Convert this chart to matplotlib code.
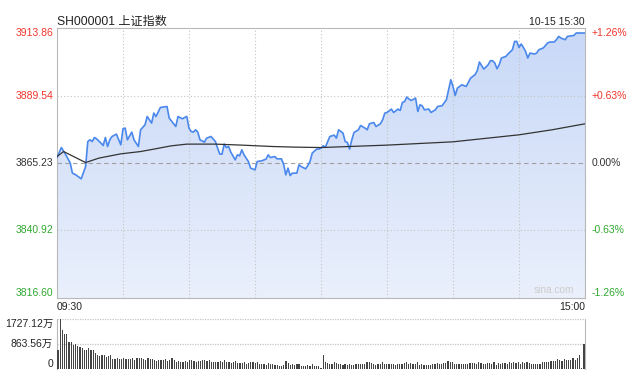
import matplotlib
matplotlib.use('Agg')
import matplotlib.pyplot as plt
import numpy as np
from matplotlib.colors import LinearSegmentedColormap
from matplotlib.patches import Polygon

plt.rcParams['font.family'] = ['Liberation Sans', 'Noto Sans CJK SC', 'DejaVu Sans']

title = 'SH000001 上证指数'
stamp = '10-15 15:30'
prev_close = 3865.23
y_labels = ['3913.86', '3889.54', '3865.23', '3840.92', '3816.60']
y_values = [3913.86, 3889.54, 3865.23, 3840.92, 3816.60]
pct_labels = ['+1.26%', '+0.63%', '0.00%', '-0.63%', '-1.26%']
vol_labels = ['1727.12万', '863.56万', '0']
vol_values = [1727.12, 863.56, 0]

# minute index (0 = 09:30, 120 = 11:30/13:00, 240 = 15:00)
price_min = [0, 2, 4, 6, 7, 8, 9, 11, 13, 14, 15, 16, 17, 18, 20, 21, 22, 23, 24, 25,
             27, 29, 30, 31, 32, 34, 35, 37, 38, 40, 41, 42, 43, 44, 45, 47, 50, 51, 54, 55,
             57, 58, 59, 60, 61, 62, 63, 64, 65, 67, 68, 70, 72, 73, 74, 75, 76, 77, 78, 79,
             81, 82, 83, 84, 85, 87, 88, 90, 91, 93, 95, 96, 97, 99, 100, 102, 103, 104, 105, 106,
             107, 109, 110, 111, 113, 114, 115, 116, 118, 119, 120, 121, 122, 124, 126, 127, 128, 130, 131, 132,
             133, 134, 135, 137, 138, 140, 141, 142, 144, 145, 147, 148, 149, 150, 152, 153, 155, 156, 157, 158,
             159, 160, 161, 163, 164, 165, 166, 167, 169, 170, 172, 173, 175, 177, 178, 179, 180, 181, 182, 184,
             186, 188, 190, 191, 192, 193, 194, 196, 197, 198, 199, 200, 201, 202, 204, 205, 207, 208, 209, 210,
             211, 212, 213, 214, 215, 217, 218, 219, 221, 223, 224, 226, 227, 228, 229, 231, 232, 235, 236, 238,
             240]
price = [3867.20, 3870.80, 3868.17, 3865.29, 3861.57, 3861.21, 3860.71, 3859.52, 3863.95, 3872.97,
         3873.58, 3872.97, 3874.41, 3873.94, 3872.39, 3871.53, 3874.41, 3871.17, 3873.58, 3874.77,
         3875.64, 3871.78, 3877.55, 3877.80, 3873.58, 3876.36, 3873.58, 3871.17, 3877.19, 3878.99,
         3881.98, 3880.79, 3879.60, 3883.21, 3881.98, 3885.23, 3885.59, 3881.41, 3878.38, 3881.98,
         3881.15, 3881.62, 3881.98, 3877.80, 3876.57, 3876.36, 3877.19, 3876.36, 3873.58, 3872.75,
         3874.19, 3874.77, 3872.97, 3870.59, 3868.42, 3868.42, 3872.03, 3870.80, 3871.17, 3869.15,
         3866.37, 3868.17, 3867.81, 3869.97, 3868.17, 3865.76, 3863.38, 3862.76, 3865.76, 3866.01,
         3866.62, 3868.17, 3867.20, 3867.56, 3866.73, 3866.73, 3864.82, 3860.96, 3863.38, 3860.71,
         3861.57, 3861.57, 3864.57, 3863.95, 3863.12, 3864.31, 3865.76, 3868.78, 3870.23, 3870.23,
         3870.59, 3871.42, 3870.95, 3874.77, 3875.28, 3874.19, 3877.19, 3876.00, 3872.97, 3872.61,
         3870.23, 3873.58, 3876.21, 3877.19, 3878.74, 3877.80, 3877.19, 3879.35, 3879.82, 3878.38,
         3879.35, 3880.79, 3883.21, 3883.43, 3884.65, 3883.43, 3884.65, 3884.15, 3887.03, 3887.39,
         3888.98, 3888.26, 3887.75, 3888.62, 3883.79, 3886.20, 3885.84, 3884.40, 3884.65, 3883.43,
         3884.40, 3885.59, 3885.84, 3888.00, 3891.61, 3895.22, 3892.80, 3889.56, 3892.22, 3893.41,
         3892.80, 3895.83, 3897.02, 3898.46, 3901.60, 3900.37, 3899.08, 3900.63, 3902.07, 3902.07,
         3901.24, 3899.18, 3900.63, 3903.04, 3903.62, 3904.48, 3906.03, 3909.03, 3909.03, 3906.86,
         3908.09, 3906.86, 3905.42, 3903.04, 3904.84, 3904.48, 3904.84, 3906.03, 3906.65, 3908.45,
         3908.81, 3908.81, 3909.64, 3910.83, 3910.25, 3909.64, 3910.83, 3911.19, 3912.06, 3912.06,
         3912.06]

avg_min = [0, 3, 13, 19, 29, 38, 44, 52, 59, 72, 84, 98, 108, 120, 150, 180, 210, 225, 240]
avg_price = [3867.56, 3869.36, 3865.39, 3866.98, 3868.53, 3869.36, 3870.23, 3871.42, 3872.03, 3872.03,
             3871.67, 3871.17, 3870.95, 3870.80, 3871.67, 3872.86, 3875.38, 3877.19, 3879.35]

# volume per minute, in 万
volume = [663, 1727, 1350, 1213, 1213, 938, 938, 835, 870, 778,
          755, 721, 641, 663, 732, 663, 641, 549, 492, 458,
          492, 492, 400, 435, 492, 355, 355, 378, 355, 355,
          378, 355, 355, 343, 378, 320, 378, 378, 366, 343,
          320, 378, 355, 343, 320, 263, 297, 297, 320, 355,
          263, 297, 378, 320, 252, 263, 240, 240, 263, 229,
          297, 297, 263, 240, 263, 263, 297, 297, 286, 297,
          240, 229, 229, 229, 286, 240, 320, 240, 229, 206,
          229, 286, 206, 206, 206, 240, 172, 206, 229, 229,
          206, 229, 183, 183, 172, 149, 206, 172, 172, 126,
          149, 115, 115, 126, 286, 206, 149, 172, 149, 172,
          183, 115, 115, 115, 149, 115, 172, 115, 115, 115,
          34,
          469, 240, 206, 183, 183, 229, 206, 183, 172, 149,
          183, 149, 183, 149, 149, 183, 172, 172, 183, 172,
          229, 229, 206, 183, 149, 183, 183, 229, 183, 183,
          183, 183, 183, 149, 172, 183, 183, 206, 229, 183,
          206, 183, 183, 252, 149, 183, 149, 149, 126, 149,
          183, 183, 206, 183, 172, 206, 206, 286, 229, 229,
          183, 183, 172, 183, 172, 183, 183, 206, 206, 206,
          172, 240, 206, 172, 172, 206, 206, 172, 229, 149,
          206, 183, 206, 206, 183, 229, 206, 240, 206, 240,
          183, 229, 206, 240, 206, 183, 183, 183, 183, 183,
          240, 229, 229, 229, 263, 286, 263, 343, 297, 263,
          343, 320, 320, 320, 378, 320, 378, 492, 34, 870]

RED = '#f0352c'
GREEN = '#2fa82f'
DARK = '#333333'
GRID = '#c4c4c4'
BORDER = '#b8b8b8'
label_colors = [RED, RED, DARK, GREEN, GREEN]

fig = plt.figure(figsize=(6.44, 3.74), dpi=100)
ax = fig.add_axes([57 / 644, 1 - 298 / 374, 528 / 644, 270 / 374])
axv = fig.add_axes([57 / 644, 1 - 369 / 374, 528 / 644, 50 / 374])

ymin, ymax = y_values[-1], y_values[0]
ax.set_xlim(0, 240)
ax.set_ylim(ymin, ymax)

# gradient area under the price line
cmap = LinearSegmentedColormap.from_list('fill', ['#eaf0fc', '#c8d8f7'])
grad = np.linspace(0, 1, 256).reshape(-1, 1)
img = ax.imshow(grad, extent=[0, 240, ymin, ymax], origin='lower', aspect='auto',
                cmap=cmap, zorder=1)
verts = np.column_stack([np.r_[price_min, price_min[-1], price_min[0]],
                         np.r_[price, ymin, ymin]])
clip = Polygon(verts, closed=True, facecolor='none', edgecolor='none')
ax.add_patch(clip)
img.set_clip_path(clip)

# grid
for m in range(30, 240, 30):
    ax.axvline(m, color=GRID, lw=0.8, ls=(0, (1, 2)), zorder=2)
for v in [y_values[1], y_values[3]]:
    ax.axhline(v, color=GRID, lw=0.8, ls=(0, (1, 2)), zorder=2)
ax.axhline(prev_close, color='#a0a0a0', lw=0.8, ls=(0, (4, 3)), zorder=2)

ax.plot(price_min, price, color='#4a88ec', lw=1.2, zorder=4)
ax.plot(avg_min, avg_price, color=DARK, lw=0.9, zorder=5)

ax.set_xticks([])
ax.set_yticks([])
for s in ax.spines.values():
    s.set_color(BORDER)
    s.set_linewidth(0.8)

fs = 7.5
vas = ['top', 'center', 'center', 'center', 'bottom']
for lab, pct, v, c, va in zip(y_labels, pct_labels, y_values, label_colors, vas):
    ax.annotate(lab, xy=(0, v), xycoords=('axes fraction', 'data'), xytext=(-4, 0),
                textcoords='offset pixels', ha='right', va=va, color=c, fontsize=fs)
    ax.annotate(pct, xy=(1, v), xycoords=('axes fraction', 'data'), xytext=(7, 0),
                textcoords='offset pixels', ha='left', va=va, color=c, fontsize=fs)

ax.annotate(title, xy=(0, 1), xycoords='axes fraction', xytext=(0, 3),
            textcoords='offset pixels', ha='left', va='baseline',
            fontsize=8.7, color='#222222')
ax.annotate(stamp, xy=(1, 1), xycoords='axes fraction', xytext=(0, 3),
            textcoords='offset pixels', ha='right', va='baseline',
            fontsize=7.5, color='#222222')
ax.text(0, -0.015, '09:30', transform=ax.transAxes, ha='left', va='top',
        fontsize=7.5, color='#222222')
ax.text(1, -0.015, '15:00', transform=ax.transAxes, ha='right', va='top',
        fontsize=7.5, color='#222222')
ax.text(0.98, 0.01, 'sina.com', transform=ax.transAxes, ha='right', va='bottom',
        fontsize=7.3, color='#cccccc')

# volume panel
minutes = np.arange(len(volume))
axv.bar(minutes, volume, width=0.55, color='#444444', zorder=3)
axv.set_xlim(-0.5, 240.5)
axv.set_ylim(0, vol_values[0])
for v in vol_values:
    axv.axhline(v, color=GRID, lw=0.9, ls=(0, (1, 1)), zorder=1)
axv.set_xticks([])
axv.set_yticks([])
for side in ['top', 'bottom']:
    axv.spines[side].set_visible(False)
for side in ['left', 'right']:
    axv.spines[side].set_color(BORDER)
    axv.spines[side].set_linewidth(0.8)
for lab, v, va in zip(vol_labels, vol_values, ['top', 'center', 'bottom']):
    axv.annotate(lab, xy=(0, v), xycoords=('axes fraction', 'data'), xytext=(-4, 0),
                 textcoords='offset pixels', ha='right', va=va, color='#222222', fontsize=fs)

fig.savefig('out.png', dpi=100)
